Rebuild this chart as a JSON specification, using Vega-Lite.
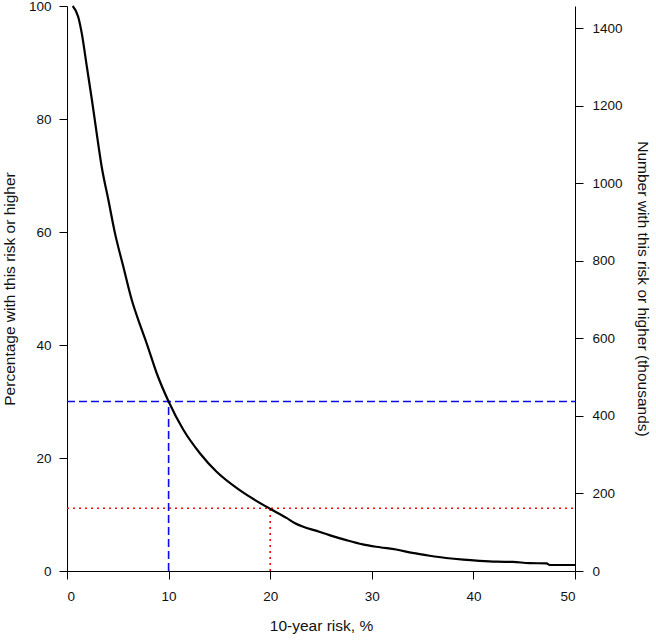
{
  "$schema": "https://vega.github.io/schema/vega-lite/v6.json",
  "width": 508,
  "height": 565,
  "autosize": {"type": "none"},
  "padding": {"left": 67, "top": 6, "right": 81, "bottom": 69},
  "background": "white",
  "config": {
    "font": "Liberation Sans",
    "view": {"stroke": null},
    "axis": {
      "grid": false,
      "domainColor": "#000000",
      "tickColor": "#000000",
      "labelColor": "#111111",
      "titleColor": "#111111",
      "labelFontSize": 13.5,
      "titleFontSize": 15.5,
      "titleFontWeight": "normal",
      "tickSize": 8,
      "domainWidth": 1,
      "tickWidth": 1
    }
  },
  "datasets": {
    "curve": [
      {"risk": 0.56, "pct": 100},
      {"risk": 1.1, "pct": 98.1},
      {"risk": 1.45, "pct": 95.2},
      {"risk": 1.95, "pct": 89.3},
      {"risk": 2.45, "pct": 83.4},
      {"risk": 2.92, "pct": 77.5},
      {"risk": 3.41, "pct": 71.6},
      {"risk": 4.07, "pct": 65.7},
      {"risk": 4.72, "pct": 59.8},
      {"risk": 5.54, "pct": 53.9},
      {"risk": 6.37, "pct": 48.0},
      {"risk": 7.2, "pct": 43.5},
      {"risk": 7.84, "pct": 40.3},
      {"risk": 8.83, "pct": 35.0},
      {"risk": 10.0, "pct": 30.0},
      {"risk": 11.45, "pct": 25.0},
      {"risk": 13.1, "pct": 20.8},
      {"risk": 14.7, "pct": 17.6},
      {"risk": 17.0, "pct": 14.3},
      {"risk": 20.0, "pct": 11.0},
      {"risk": 21.6, "pct": 9.4},
      {"risk": 22.4, "pct": 8.5},
      {"risk": 24.9, "pct": 6.9},
      {"risk": 25.9, "pct": 6.3},
      {"risk": 27.4, "pct": 5.5},
      {"risk": 29.1, "pct": 4.7},
      {"risk": 30.8, "pct": 4.2},
      {"risk": 32.4, "pct": 3.8},
      {"risk": 34.0, "pct": 3.2},
      {"risk": 35.7, "pct": 2.7},
      {"risk": 37.3, "pct": 2.3},
      {"risk": 39.0, "pct": 2.0},
      {"risk": 40.6, "pct": 1.8},
      {"risk": 42.3, "pct": 1.65},
      {"risk": 43.9, "pct": 1.6},
      {"risk": 45.5, "pct": 1.4},
      {"risk": 47.2, "pct": 1.35},
      {"risk": 47.5, "pct": 1.06},
      {"risk": 50.0, "pct": 1.06}
    ],
    "blue": [{"risk": 10, "pct": 30}],
    "red": [{"risk": 20, "pct": 11.1}],
    "rightScale": [{"thousands": 0}, {"thousands": 1458}]
  },
  "layer": [
    {
      "encoding": {
        "x": {
          "field": "risk",
          "type": "quantitative",
          "scale": {"domain": [0, 50], "nice": false, "zero": false},
          "axis": {
            "values": [0, 10, 20, 30, 40, 50],
            "title": "10-year risk, %",
            "labelPadding": 10,
            "titlePadding": 16
          }
        },
        "y": {
          "field": "pct",
          "type": "quantitative",
          "scale": {"domain": [0, 100], "nice": false},
          "axis": {
            "values": [0, 20, 40, 60, 80, 100],
            "title": "Percentage with this risk or higher",
            "labelPadding": 8,
            "titlePadding": 11
          }
        }
      },
      "layer": [
        {
          "data": {"name": "blue"},
          "mark": {"type": "rule", "color": "#0a0aee", "strokeWidth": 1.6, "strokeDash": [8, 4]},
          "encoding": {"x": {"datum": 0}, "x2": {"datum": 50}}
        },
        {
          "data": {"name": "blue"},
          "mark": {"type": "rule", "color": "#0a0aee", "strokeWidth": 1.6, "strokeDash": [8, 4]},
          "encoding": {"y": {"datum": 0}, "y2": {"field": "pct"}}
        },
        {
          "data": {"name": "red"},
          "mark": {"type": "rule", "color": "#ee0a0a", "strokeWidth": 1.6, "strokeDash": [2, 4]},
          "encoding": {"x": {"datum": 0}, "x2": {"datum": 50}}
        },
        {
          "data": {"name": "red"},
          "mark": {"type": "rule", "color": "#ee0a0a", "strokeWidth": 1.6, "strokeDash": [2, 4]},
          "encoding": {"y": {"datum": 0}, "y2": {"field": "pct"}}
        },
        {
          "data": {"name": "curve"},
          "mark": {"type": "line", "color": "#000000", "strokeWidth": 2.2, "interpolate": "monotone"}
        }
      ]
    },
    {
      "data": {"name": "rightScale"},
      "mark": {"type": "point", "opacity": 0},
      "encoding": {
        "y": {
          "field": "thousands",
          "type": "quantitative",
          "scale": {"domain": [0, 1458], "nice": false},
          "axis": {
            "orient": "right",
            "format": "d",
            "values": [0, 200, 400, 600, 800, 1000, 1200, 1400],
            "title": "Number with this risk or higher (thousands)",
            "labelPadding": 9,
            "titlePadding": 12
          }
        }
      }
    }
  ],
  "resolve": {"scale": {"y": "independent"}}
}
